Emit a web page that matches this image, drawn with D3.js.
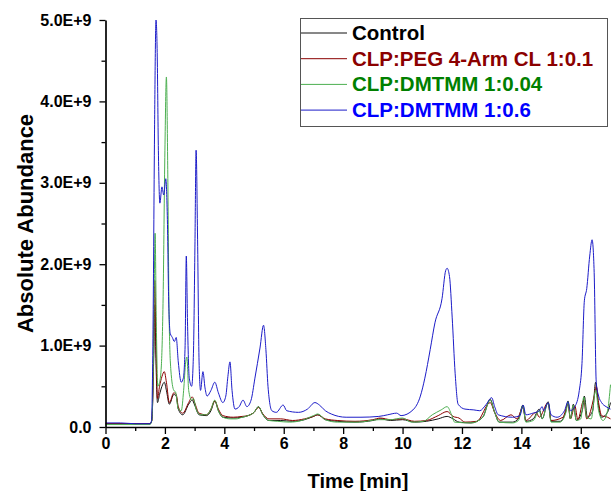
<!DOCTYPE html>
<html>
<head>
<meta charset="utf-8">
<script src="https://cdn.jsdelivr.net/npm/d3@7"></script>
<style>
  body { margin: 0; background: #fff; }
  svg { font-family: "Liberation Sans", Arial, sans-serif; font-weight: bold; }
</style>
</head>
<body>
<script>
// series names + colours (legend order)
var seriesNames = ["Control", "CLP:PEG 4-Arm CL 1:0.1", "CLP:DMTMM 1:0.04", "CLP:DMTMM 1:0.6"];
var lineColors = ["#111111", "#8b0000", "#4caf50", "#1c1cc8"];
var textColors = ["#000000", "#8b0000", "#008000", "#0000ff"];

// tick values
var xTicks = [0, 2, 4, 6, 8, 10, 12, 14, 16];
var yTicks = [0, 1e9, 2e9, 3e9, 4e9, 5e9];

// [time (min), abundance (E+9)]
var control = [[0,0.04],[1.5,0.04],[1.56,0.08],[1.62,0.8],[1.66,1.5],[1.7,0.8],[1.75,0.3],[1.82,0.4],[1.9,0.5],[1.98,0.55],[2.05,0.45],[2.15,0.28],[2.3,0.4],[2.38,0.38],[2.45,0.22],[2.6,0.15],[2.8,0.28],[2.92,0.33],[3.0,0.27],[3.15,0.15],[3.4,0.14],[3.55,0.2],[3.68,0.32],[3.8,0.2],[3.95,0.12],[4.3,0.11],[4.6,0.12],[4.8,0.14],[5.0,0.18],[5.15,0.25],[5.3,0.15],[5.5,0.08],[5.9,0.08],[6.3,0.07],[6.7,0.09],[7.0,0.13],[7.15,0.15],[7.4,0.09],[7.8,0.07],[8.4,0.06],[9.0,0.08],[9.25,0.1],[9.6,0.08],[10.0,0.09],[10.4,0.06],[10.8,0.07],[11.2,0.1],[11.5,0.13],[11.7,0.1],[11.9,0.06],[12.3,0.05],[12.7,0.12],[12.95,0.34],[13.1,0.18],[13.25,0.06],[13.7,0.06],[13.9,0.1],[14.05,0.27],[14.15,0.07],[14.4,0.1],[14.6,0.22],[14.7,0.1],[14.9,0.31],[15.0,0.07],[15.3,0.07],[15.5,0.2],[15.57,0.32],[15.65,0.1],[15.75,0.28],[15.85,0.08],[16.05,0.2],[16.12,0.38],[16.22,0.12],[16.4,0.2],[16.5,0.55],[16.58,0.3],[16.7,0.12],[16.9,0.18],[17.0,0.3]];

var peg = [[0,0.04],[1.5,0.04],[1.56,0.08],[1.62,0.9],[1.66,1.8],[1.7,1.0],[1.75,0.35],[1.82,0.5],[1.9,0.62],[1.98,0.68],[2.05,0.55],[2.15,0.3],[2.3,0.42],[2.38,0.4],[2.45,0.25],[2.6,0.17],[2.8,0.3],[2.92,0.37],[3.0,0.3],[3.15,0.17],[3.4,0.15],[3.55,0.22],[3.68,0.32],[3.8,0.22],[3.95,0.14],[4.3,0.12],[4.6,0.13],[4.8,0.14],[5.0,0.18],[5.15,0.24],[5.3,0.16],[5.5,0.1],[5.9,0.1],[6.3,0.08],[6.7,0.1],[7.0,0.13],[7.15,0.15],[7.4,0.1],[7.8,0.08],[8.4,0.07],[9.0,0.09],[9.25,0.11],[9.6,0.09],[10.0,0.1],[10.4,0.07],[10.8,0.08],[11.2,0.14],[11.5,0.19],[11.7,0.13],[11.9,0.11],[12.1,0.06],[12.5,0.07],[12.95,0.3],[13.1,0.18],[13.3,0.08],[13.65,0.15],[13.85,0.1],[14.05,0.24],[14.15,0.08],[14.5,0.18],[14.6,0.12],[14.9,0.3],[15.0,0.08],[15.4,0.12],[15.57,0.28],[15.65,0.1],[15.8,0.26],[15.9,0.09],[16.1,0.33],[16.2,0.1],[16.45,0.38],[16.52,0.5],[16.6,0.3],[16.7,0.14],[16.9,0.12],[17.0,0.1]];

var dmtmmLow = [[0,0.03],[1.5,0.03],[1.56,0.08],[1.62,1.0],[1.67,2.38],[1.71,1.3],[1.76,0.5],[1.82,0.55],[1.88,0.75],[1.94,1.6],[2.0,3.4],[2.05,4.3],[2.1,3.0],[2.14,1.4],[2.2,0.7],[2.3,0.45],[2.36,0.43],[2.45,0.22],[2.55,0.2],[2.63,0.45],[2.7,0.8],[2.74,0.86],[2.8,0.45],[2.9,0.33],[2.96,0.35],[3.05,0.22],[3.2,0.15],[3.4,0.15],[3.55,0.22],[3.68,0.33],[3.8,0.2],[3.95,0.12],[4.2,0.1],[4.4,0.1],[4.6,0.12],[4.8,0.14],[5.0,0.18],[5.15,0.25],[5.3,0.15],[5.5,0.08],[5.8,0.07],[6.2,0.06],[6.6,0.08],[7.0,0.14],[7.15,0.16],[7.4,0.09],[7.8,0.06],[8.5,0.06],[9.2,0.09],[9.6,0.09],[10.0,0.11],[10.3,0.06],[10.7,0.07],[11.0,0.15],[11.3,0.21],[11.5,0.25],[11.65,0.15],[11.75,0.06],[12.3,0.05],[12.7,0.12],[12.95,0.33],[13.1,0.18],[13.25,0.06],[13.7,0.05],[13.9,0.08],[14.05,0.26],[14.15,0.06],[14.4,0.08],[14.6,0.2],[14.7,0.1],[14.9,0.3],[15.0,0.06],[15.3,0.06],[15.5,0.18],[15.57,0.31],[15.65,0.1],[15.75,0.27],[15.85,0.08],[16.0,0.1],[16.1,0.37],[16.2,0.12],[16.35,0.1],[16.5,0.45],[16.6,0.2],[16.75,0.08],[16.9,0.2],[17.0,0.52]];

var dmtmmHigh = [[0,0.05],[0.5,0.05],[1.0,0.04],[1.5,0.04],[1.55,0.08],[1.6,1.2],[1.65,3.6],[1.7,5.0],[1.74,4.6],[1.78,3.4],[1.83,2.75],[1.9,2.95],[1.96,2.85],[2.03,3.05],[2.08,2.6],[2.13,1.5],[2.18,1.15],[2.25,1.1],[2.32,1.05],[2.38,1.1],[2.45,0.8],[2.55,0.55],[2.62,0.6],[2.68,1.0],[2.72,2.1],[2.76,1.3],[2.82,0.6],[2.9,0.5],[2.96,0.9],[3.01,2.2],[3.05,3.4],[3.1,2.3],[3.15,0.8],[3.2,0.45],[3.28,0.68],[3.35,0.48],[3.42,0.38],[3.55,0.45],[3.68,0.55],[3.8,0.42],[3.95,0.3],[4.05,0.38],[4.12,0.62],[4.19,0.8],[4.26,0.45],[4.36,0.22],[4.5,0.25],[4.63,0.33],[4.76,0.25],[4.9,0.33],[5.03,0.6],[5.2,0.97],[5.32,1.25],[5.4,0.95],[5.47,0.5],[5.6,0.2],[5.75,0.18],[5.98,0.27],[6.1,0.2],[6.5,0.18],[6.8,0.22],[7.05,0.3],[7.2,0.27],[7.4,0.2],[7.6,0.16],[8.1,0.12],[8.6,0.12],[9.2,0.13],[9.5,0.15],[9.8,0.17],[9.95,0.14],[10.35,0.21],[10.6,0.38],[10.75,0.6],[10.93,0.95],[11.09,1.28],[11.33,1.58],[11.45,1.92],[11.5,1.95],[11.58,1.85],[11.67,1.35],[11.77,0.66],[11.87,0.28],[12.1,0.22],[12.4,0.21],[12.6,0.2],[12.8,0.27],[13.0,0.36],[13.1,0.25],[13.22,0.15],[13.7,0.12],[13.95,0.14],[14.06,0.27],[14.15,0.15],[14.39,0.17],[14.6,0.2],[14.7,0.25],[14.75,0.2],[14.9,0.3],[15.0,0.15],[15.2,0.12],[15.45,0.2],[15.57,0.31],[15.65,0.2],[15.8,0.25],[15.95,0.45],[16.04,0.78],[16.12,1.55],[16.2,1.7],[16.3,2.1],[16.38,2.3],[16.45,1.9],[16.52,0.55],[16.6,0.38],[16.7,0.3],[16.85,0.25],[17.0,0.22]];

var allSeries = [control, peg, dmtmmLow, dmtmmHigh];

var width = 611,
    height = 491,
    margin = {top: 20, right: 0.5, bottom: 64, left: 105.5};

var svg = d3.select("body").append("svg")
    .attr("width", width)
    .attr("height", height);

var x = d3.scaleLinear().domain([0, 17]).range([margin.left, width - margin.right]);
var y = d3.scaleLinear().domain([0, 5e9]).range([height - margin.bottom, margin.top]);

svg.append("clipPath").attr("id", "plot-clip")
  .append("rect")
    .attr("x", margin.left).attr("y", margin.top - 1)
    .attr("width", width - margin.left).attr("height", height - margin.bottom - margin.top + 1);

var line = d3.line()
    .x(function(d){ return x(d[0]); })
    .y(function(d){ return y(d[1] * 1e9); })
    .curve(d3.curveMonotoneX);

svg.append("g").attr("clip-path", "url(#plot-clip)")
  .selectAll("path")
  .data(allSeries)
  .enter().append("path")
    .attr("fill", "none")
    .attr("stroke", function(d, i){ return lineColors[i]; })
    .attr("stroke-width", 1)
    .attr("d", line);

// minor ticks first, then the labelled axes on top
svg.append("g")
    .attr("transform", "translate(0," + y(0) + ")")
    .call(d3.axisBottom(x).tickValues(d3.range(1, 17, 2)).tickSize(4).tickFormat(""))
    .call(function(g){ g.select(".domain").remove(); });
svg.append("g")
    .attr("transform", "translate(" + x(0) + ",0)")
    .call(d3.axisLeft(y).tickValues(d3.range(0.5e9, 5e9, 1e9)).tickSize(4).tickFormat(""))
    .call(function(g){ g.select(".domain").remove(); });

var xAxis = svg.append("g")
    .attr("transform", "translate(0," + y(0) + ")")
    .call(d3.axisBottom(x).tickValues(xTicks).tickSize(7).tickSizeOuter(0).tickPadding(4));

var yAxis = svg.append("g")
    .attr("transform", "translate(" + x(0) + ",0)")
    .call(d3.axisLeft(y).tickValues(yTicks).tickSize(6).tickSizeOuter(0).tickPadding(8)
      .tickFormat(function(d){ return d === 0 ? "0.0" : (d / 1e9).toFixed(1) + "E+9"; }));

svg.selectAll(".tick line").attr("stroke", "#000").attr("stroke-width", 1.3);
svg.selectAll(".domain").attr("stroke", "#000").attr("stroke-width", 1.7);
svg.selectAll(".tick text")
    .attr("fill", "#000")
    .style("font-size", "16px")
    .style("font-weight", "bold")
    .style("font-family", "'Liberation Sans', Arial, sans-serif");

// axis titles
svg.append("text")
    .attr("x", (x(0) + x(17)) / 2)
    .attr("y", 488)
    .attr("text-anchor", "middle")
    .style("font-size", "20px")
    .text("Time [min]");

svg.append("text")
    .attr("transform", "translate(33," + (y(0) + y(5e9)) / 2 + ") rotate(-90)")
    .attr("text-anchor", "middle")
    .style("font-size", "22px")
    .text("Absolute Abundance");

// legend
var legend = svg.append("g");
legend.append("rect")
    .attr("x", 300.5).attr("y", 18.5)
    .attr("width", 307).attr("height", 108)
    .attr("fill", "#fff")
    .attr("stroke", "#555")
    .attr("stroke-width", 1);

var rows = legend.selectAll(".row")
    .data(seriesNames)
    .enter().append("g")
    .attr("transform", function(d, i){ return "translate(0," + (33 + i * 25.7) + ")"; });

rows.append("line")
    .attr("x1", 301).attr("x2", 347)
    .attr("stroke", function(d, i){ return lineColors[i]; })
    .attr("stroke-width", 1);

rows.append("text")
    .attr("x", 352)
    .attr("y", 7)
    .attr("fill", function(d, i){ return textColors[i]; })
    .style("font-size", "20.5px")
    .text(function(d){ return d; });
</script>
</body>
</html>
